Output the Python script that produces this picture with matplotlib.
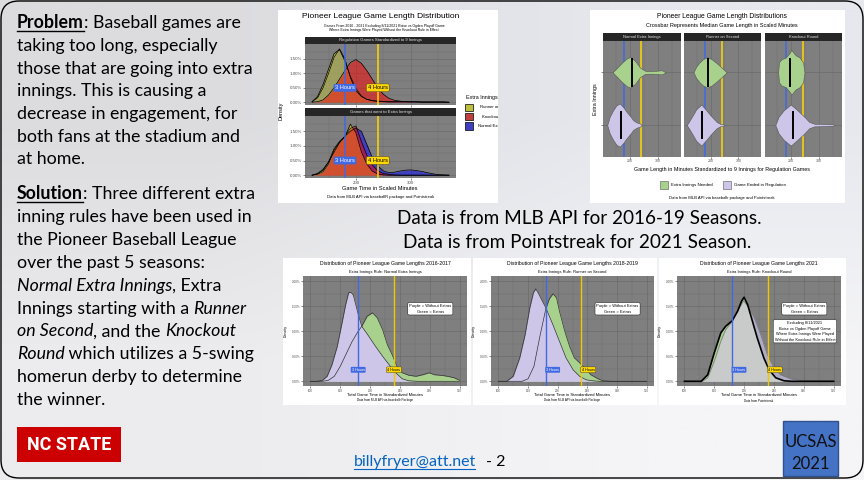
import numpy as np
import matplotlib.pyplot as plt
from matplotlib.patches import Rectangle, FancyBboxPatch

W, H = 864, 480
CF = 'Liberation Sans'   # chart font (ggplot look)
SF = 'Lato'              # slide font (Calibri look)

# ---------------- data (densities in %) ----------------
tl_x = list(range(120, 371, 10))
reg_runner = [.02, .2, .62, 1.15, 1.68, 1.83, 1.42, .9, .48, .22, .1, .05, .03, .02, .01, .01, .01, .01, .01, .01, 0, 0, 0, 0, 0, 0]
reg_knock = [0, .02, .08, .25, .5, .8, 1.1, 1.38, 1.48, 1.35, 1.1, .8, .5, .28, .14, .07, .04, .02, .01, .01, .01, .01, .01, .01, .01, 0]
reg_normal = [.02, .15, .5, 1.0, 1.55, 1.85, 1.5, .85, .4, .2, .1, .06, .04, .03, .03, .03, .02, .02, .02, .02, .01, .01, .01, .01, .01, 0]
ext_runner = [0, .06, .2, .45, .9, 1.15, 1.32, 1.74, 1.45, .8, .38, .14, .04, .01, 0, 0, 0, 0, 0, 0, 0, 0, 0, 0, 0, 0]
ext_knock = [0, .03, .12, .38, .85, 1.12, 1.33, 1.6, 1.68, 1.15, .68, .35, .15, .06, .03, .01, 0, 0, 0, 0, 0, 0, 0, 0, 0, 0]
ext_normal = [0, .05, .17, .45, .78, 1.1, 1.33, 1.5, 1.61, 1.5, 1.05, .6, .32, .15, .09, .1, .14, .17, .18, .16, .13, .09, .05, .02, .01, 0]
tl_rules = ['Runner on Second', 'Knockout Round', 'Normal Extra Innings']

# violins: game length vs half width (category units)
vio_names = ['Normal Extra Innings', 'Runner on Second', 'Knockout Round']
vio_ext_x = [[138, 152, 170, 188, 200, 218, 236, 254, 271, 295, 313, 328],
             [139, 149, 161, 173, 188, 204, 222, 240, 252, 258],
             [153, 156, 165, 180, 195, 200, 215, 230, 242, 247]]
vio_ext_w = [[0, .075, .175, .26, .29, .22, .09, .03, .025, .03, .04, 0],
             [0, .11, .19, .25, .29, .25, .175, .09, .03, 0],
             [0, .19, .25, .28, .375, .425, .325, .28, .19, 0]]
vio_reg_x = [[119, 128, 140, 152, 164, 176, 188, 200, 212, 224, 236, 242],
             [115, 124, 137, 149, 167, 185, 204, 222, 234, 246, 250],
             [143, 155, 173, 198, 222, 246, 264, 282, 318, 351, 353]]
vio_reg_w = [[0, .16, .28, .375, .41, .34, .25, .175, .09, .05, .03, 0],
             [0, .075, .19, .3, .39, .28, .16, .06, .025, .012, 0],
             [0, .16, .28, .39, .28, .16, .06, .025, .019, .012, 0]]
med_ext = [208, 191, 195]
med_reg = [168, 168, 205]

# season densities
s1_px = [100, 111, 120, 128, 136, 145, 153, 159, 164, 168, 172, 176, 181, 186, 195, 209, 221, 232, 243, 254, 265, 280, 350]
s1_py = [0, 0, .02, .1, .33, .7, 1.17, 1.53, 1.77, 1.78, 1.72, 1.53, 1.3, 1.1, .95, .7, .5, .33, .17, .05, .01, 0, 0]
s1_gx = [100, 120, 130, 140, 150, 160, 170, 180, 186, 195, 204, 212, 221, 229, 237, 246, 254, 265, 277, 288, 299, 308, 319, 330, 341, 350]
s1_gy = [0, 0, .02, .1, .3, .55, .8, 1.0, 1.1, 1.3, 1.37, 1.27, 1.03, .73, .53, .27, .17, .12, .1, .13, .17, .13, .12, .1, .07, .02]
s2_px = [100, 114, 125, 136, 145, 153, 159, 163, 167, 173, 180, 186, 192, 203, 214, 226, 237, 248, 259, 270, 350]
s2_py = [0, 0, .1, .47, .93, 1.47, 1.77, 1.85, 1.77, 1.63, 1.47, 1.3, 1.13, .8, .47, .23, .1, .03, .01, 0, 0]
s2_gx = [100, 140, 150, 160, 170, 180, 186, 192, 198, 203, 212, 220, 228, 237, 245, 256, 268, 276, 290, 350]
s2_gy = [0, 0, .05, .3, .9, 1.45, 1.65, 1.75, 1.67, 1.4, 1.0, .7, .47, .37, .27, .13, .05, .01, 0, 0]
s3_gx = [100, 128, 139, 150, 161, 169, 180, 189, 196, 200, 206, 214, 222, 233, 242, 253, 267, 280, 350]
s3_gy = [0, 0, .13, .57, .97, 1.1, 1.21, 1.4, 1.61, 1.68, 1.53, 1.2, .87, .47, .23, .07, .01, 0, 0]
s3_px = [100, 130, 139, 150, 161, 169, 180, 189, 199, 208, 217, 228, 239, 250, 261, 272, 278, 289, 300, 350]
s3_py = [0, 0, .07, .4, .8, 1.03, 1.2, 1.4, 1.61, 1.47, 1.27, .93, .53, .27, .13, .08, .05, .03, 0, 0]
season_titles = ['Distribution of Pioneer League Game Lengths 2016-2017',
                 'Distribution of Pioneer League Game Lengths 2018-2019',
                 'Distribution of Pioneer League Game Lengths 2021']
season_rules = ['Extra Innings Rule: Normal Extra Innings', 'Extra Innings Rule: Runner on Second',
                'Extra Innings Rule: Knockout Round']
season_src = ['Data from MLB API via baseballr Package', 'Data from MLB API via baseballr Package',
              'Data from Pointstreak']

# ---------------- figure / slide background ----------------
fig = plt.figure(figsize=(8.64, 4.8), dpi=100)
bg = fig.add_axes([0, 0, 1, 1])
bg.set_xlim(0, W)
bg.set_ylim(H, 0)
bg.axis('off')
grad = np.array([[[220, 220, 223], [230, 232, 238]],
                 [[236, 236, 239], [245, 245, 247]]]) / 255
bg.imshow(grad, extent=(0, W, H, 0), interpolation='bilinear', aspect='auto')
bg.add_patch(FancyBboxPatch((1, 1), 862, 477, boxstyle='round,pad=0,rounding_size=18',
                            fc='none', ec='black', lw=1.0))
r = fig.canvas.get_renderer()


def px(x0, y0, x1, y1):
    return fig.add_axes([x0 / W, 1 - y1 / H, (x1 - x0) / W, (y1 - y0) / H])


def T(x, y, s, size, ha='center', **kw):
    kw.setdefault('family', CF)
    return bg.text(x, y, s, fontsize=size, ha=ha, va='center', **kw)


def dark(ax, xmaj, xmin, ymaj, ymin, lsize):
    ax.set_facecolor('#7f7f7f')
    ax.set_xticks(xmaj)
    ax.set_xticks(xmin, minor=True)
    ax.set_yticks(ymaj)
    ax.set_yticks(ymin, minor=True)
    ax.grid(which='major', color='#6b6b6b', lw=0.5)
    ax.grid(which='minor', color='#6b6b6b', lw=0.25)
    ax.set_axisbelow(True)
    for s in ax.spines.values():
        s.set_visible(False)
    ax.tick_params(which='major', length=1.2, width=0.4, color='#333333',
                   labelsize=lsize, labelcolor='#4d4d4d', pad=0.8)
    ax.tick_params(which='minor', length=0)
    for lab in ax.get_xticklabels() + ax.get_yticklabels():
        lab.set_family(CF)


def strip(x0, y0, x1, y1, s, size):
    bg.add_patch(Rectangle((x0, y0), x1 - x0, y1 - y0, fc='#262626', ec='none'))
    T((x0 + x1) / 2, (y0 + y1) / 2, s, size, color='#e6e6e6')


for box in [(278, 10, 498, 203), (590, 10, 845, 203), (283, 258, 471, 405),
            (473, 258, 657, 405), (659, 258, 846, 405)]:
    bg.add_patch(Rectangle((box[0], box[1]), box[2] - box[0], box[3] - box[1], fc='white', ec='none'))

# ---------------- top left chart ----------------
keys = {'Runner on Second': '#bfbf3f', 'Knockout Round': '#bf3f3f', 'Normal Extra Innings': '#3f3fbf'}
T(380.7, 17, 'Pioneer League Game Length Distribution', 6.0)
T(384, 26, 'Games From 2016 - 2021 Excluding 8/11/2021 Boise vs Ogden Playoff Game', 2.5)
T(384, 29.5, 'Where Extra Innings Were Played Without the Knockout Rule in Effect', 2.5)
strip(305, 37, 456, 44, 'Regulation Games Standardized to 9 Innings', 3.1)
strip(305, 108, 456, 116, 'Games that went to Extra Innings', 3.1)
for (y0, y1), sets, lab in [((44, 105), [reg_normal, reg_runner, reg_knock], False),
                            ((116, 178), [ext_normal, ext_runner, ext_knock], True)]:
    ax = px(305, y0, 456, y1)
    for vals, c in zip(sets, ['blue', 'yellow', 'red']):
        ax.fill_between(tl_x, vals, color=c, alpha=0.5, lw=0)
        ax.plot(tl_x, vals, color='black', lw=0.5)
    ax.axvline(180, color='#4169e1', lw=1.1)
    ax.axvline(240, color='gold', lw=1.1)
    ax.set_xlim(107, 383)
    ax.set_ylim(-0.096, 2.02)
    dark(ax, [200, 300], [150, 250, 350], [0, .5, 1, 1.5], [.25, .75, 1.25, 1.75], 3.2)
    ax.set_yticklabels(['0.00%', '0.50%', '1.00%', '1.50%'], family=CF)
    if not lab:
        ax.set_xticklabels([])
    ax.text(180, 0.5, '3 Hours', fontsize=4.1, family=CF, color='white', ha='center', va='center',
            bbox=dict(boxstyle='round,pad=0.25', fc='#4169e1', ec='none'))
    ax.text(240, 0.5, '4 Hours', fontsize=4.1, family=CF, color='black', ha='center', va='center',
            bbox=dict(boxstyle='round,pad=0.25', fc='gold', ec='#333333', lw=0.3))
T(281.3, 111, 'Density', 4, rotation=90)
T(380, 189, 'Game Time in Scaled Minutes', 4.1)
T(381, 197.3, 'Data from MLB API via baseballR package and Pointstreak', 3.0)
# legend is cut off by the edge of the pasted image
crop = Rectangle((278, 10), 220, 193, transform=bg.transData)
t = T(466, 97, 'Extra Innings Rule', 3.9, ha='left')
t.set_clip_on(True)
t.set_clip_path(crop)
for i, name in enumerate(tl_rules):
    yk = 103.7 + i * 9.2
    bg.add_patch(Rectangle((465.3, yk), 7.7, 7.6, fc=keys[name], ec='black', lw=0.5))
    t = T(497, yk + 3.8, name, 3.1)
    t.set_clip_on(True)
    t.set_clip_path(crop)

# ---------------- top right chart (violins) ----------------
T(722, 16, 'Pioneer League Game Length Distributions', 4.9)
T(722, 25.3, 'Crossbar Represents Median Game Length in Scaled Minutes', 4.0)
tr_panels = [(603.3, 680.7), (684, 761), (764.7, 842)]
for k, (x0, x1) in enumerate(tr_panels):
    strip(x0, 32.7, x1, 40.7, vio_names[k], 2.9)
    ax = px(x0, 40.7, x1, 156.7)
    ax.axvline(180, color='#4169e1', lw=1.1)
    ax.axvline(240, color='gold', lw=1.1)
    ax.fill_between(vio_ext_x[k], [2 - w for w in vio_ext_w[k]], [2 + w for w in vio_ext_w[k]],
                    fc='#a9d18e', ec='#555555', lw=0.4, zorder=3)
    ax.fill_between(vio_reg_x[k], [1 - w for w in vio_reg_w[k]], [1 + w for w in vio_reg_w[k]],
                    fc='#cdc6e8', ec='#555555', lw=0.4, zorder=3)
    ax.plot([med_ext[k]] * 2, [1.75, 2.25], color='black', lw=1.4, zorder=4)
    ax.plot([med_reg[k]] * 2, [0.75, 1.25], color='black', lw=1.4, zorder=4)
    ax.set_xlim(105, 381)
    ax.set_ylim(0.4, 2.6)
    dark(ax, [200, 300], [150, 250, 350], [1, 2], [], 2.6)
    ax.set_yticklabels([])
    ax.tick_params(axis='y', length=1.2 if k == 0 else 0)
T(722, 169.3, 'Game Length in Minutes Standardized to 9 Innings for Regulation Games', 3.9)
T(595, 98.7, 'Extra Innings', 3.9, rotation=90)
bg.add_patch(Rectangle((660, 180.7), 8, 8.3, fc='#a9d18e', ec='#555555', lw=0.4))
T(671, 184.8, 'Extra Innings Needed', 3.2, ha='left')
bg.add_patch(Rectangle((722.7, 180.7), 8, 8.3, fc='#cdc6e8', ec='#555555', lw=0.4))
T(734, 184.8, 'Game Ended in Regulation', 3.2, ha='left')
T(722, 197.7, 'Data from MLB API via baseballr package and Pointstreak', 3.0)

# ---------------- middle text ----------------
T(579.5, 218, 'Data is from MLB API for 2016-19 Seasons.', 13.6, family=SF)
T(577, 243, 'Data is from Pointstreak for 2021 Season.', 13.6, family=SF)

# ---------------- bottom season charts ----------------
bot_panels = [(303, 467), (491, 654), (677, 841)]
curves = [(s1_gx, s1_gy, s1_px, s1_py), (s2_gx, s2_gy, s2_px, s2_py), (s3_gx, s3_gy, s3_px, s3_py)]
for k, (x0, x1) in enumerate(bot_panels):
    cx = (x0 + x1) / 2
    T(cx, 264, season_titles[k], 3.7)
    T(cx, 272.3, season_rules[k], 2.9)
    ax = px(x0, 276.3, x1, 386.3)
    gx, gy, pxs, pys = curves[k]
    if k < 2:
        ax.fill_between(gx, gy, color='#a9d18e', lw=0)
        ax.plot(gx, gy, color='#333333', lw=0.5)
        ax.fill_between(pxs, pys, color='#cdc6e8', lw=0)
        ax.plot(pxs, pys, color='#333333', lw=0.5)
        hx, ha = [180, 240], 'center'
        if k == 1:
            hx, ha = [180.5, 240.5], 'left'
    else:
        ax.fill_between(gx, gy, color='#a9d18e', lw=0)
        ax.fill_between(pxs, pys, color='#aeabc4', lw=0)
        ov_x = np.array(range(100, 351))
        ov = np.minimum(np.interp(ov_x, gx, gy), np.interp(ov_x, pxs, pys))
        ax.fill_between(ov_x, ov, color='#c9cbcb', lw=0)
        ax.plot(pxs, pys, color='#777777', lw=0.5)
        ax.plot(gx, gy, color='black', lw=1.2)
        hx, ha = [180.5, 240.5], 'left'
    ax.axvline(180, color='#4169e1', lw=1.0)
    ax.axvline(240, color='#f0c800', lw=1.0)
    ax.text(hx[0], 0.23, '3 Hours', fontsize=2.7, family=CF, color='white', ha=ha, va='center',
            bbox=dict(boxstyle='round,pad=0.25', fc='#4169e1', ec='none'))
    ax.text(hx[1], 0.23, '4 Hours', fontsize=2.7, family=CF, color='black', ha=ha, va='center',
            bbox=dict(boxstyle='round,pad=0.25', fc='gold', ec='#333333', lw=0.3))
    ax.text(301, 1.45, 'Purple = Without Extras\nGreen = Extras', fontsize=2.9, family=CF,
            ha='center', va='center', linespacing=1.5,
            bbox=dict(boxstyle='round,pad=0.35', fc='white', ec='black', lw=0.3))
    if k == 2:
        ax.text(302, 1.0, 'Excluding 8/11/2021\nBoise vs Ogden Playoff Game\nWhere Extra Innings Were Played\n'
                'Without the Knockout Rule in Effect', fontsize=2.8, family=CF, ha='center', va='center',
                linespacing=1.5, bbox=dict(boxstyle='round,pad=0.35', fc='white', ec='black', lw=0.3))
    ax.set_xlim(87.5, 362.5)
    ax.set_ylim(-0.1, 2.1)
    dark(ax, [100, 150, 200, 250, 300, 350], [125, 175, 225, 275, 325], [0, .5, 1, 1.5, 2],
         [.25, .75, 1.25, 1.75], 2.2)
    ax.set_yticklabels(['0.00%', '0.50%', '1.00%', '1.50%', '2.00%'], family=CF)
    T(x0 - 17, 331, 'Density', 2.6, rotation=90)
    T(cx, 394.7, 'Total Game Time in Standardized Minutes', 3.0)
    T(cx, 400.5, season_src[k], 2.2)

# ---------------- left text block ----------------
def width(s, kw):
    t = bg.text(0, 0, '|' + s + '|', **kw)
    t0 = bg.text(0, 0, '||', **kw)
    w = t.get_window_extent(renderer=r).width - t0.get_window_extent(renderer=r).width
    t.remove()
    t0.remove()
    return w


def style(st, size):
    return dict(fontsize=size, family=SF, fontweight='bold' if 'b' in st else 'normal',
                fontstyle='italic' if 'i' in st else 'normal')


base = width('Problem', style('b', 10)) + width(': Baseball games are', style('', 10))
FS = 10 * 224 / base


def line(x, y, parts):
    for s, st in parts:
        kw = style(st, FS)
        w = width(s, kw)
        bg.text(x, y, s, ha='left', va='baseline', **kw)
        if 'u' in st:
            bg.plot([x, x + w], [y + 2.2, y + 2.2], color='black', lw=1.0)
        x += w


problem = [[('Problem', 'bu'), (': Baseball games are', '')],
           [('taking too long, especially', '')],
           [('those that are going into extra', '')],
           [('innings. This is causing a', '')],
           [('decrease in engagement, for', '')],
           [('both fans at the stadium and', '')],
           [('at home.', '')]]
solution = [[('Solution', 'bu'), (': Three different extra', '')],
            [('inning rules have been used in', '')],
            [('the Pioneer Baseball League', '')],
            [('over the past 5 seasons:', '')],
            [('Normal Extra Innings', 'i'), (', Extra', '')],
            [('Innings starting with a ', ''), ('Runner', 'i')],
            [('on Second', 'i'), (', and the ', ''), ('Knockout', 'i')],
            [('Round', 'i'), (' which utilizes a 5-swing', '')],
            [('homerun derby to determine', '')],
            [('the winner.', '')]]
for i, parts in enumerate(problem):
    line(16.7, 28.3 + 22.7 * i, parts)
for i, parts in enumerate(solution):
    line(16.7, 199.3 + 22.85 * i, parts)

# ---------------- footer ----------------
bg.add_patch(Rectangle((17, 427), 104, 35, fc='#cc0000', ec='none'))
T(69, 444.5, 'NC STATE', 13, family='Roboto', fontweight='bold', color='white')
T(354, 462, 'billyfryer@att.net', 11.5, ha='left', family=SF, color='#0563c1')
bg.plot([354, 475], [469, 469], color='#0563c1', lw=0.8)
T(486, 462, '- 2', 11.5, ha='left', family=SF, color='black')
bg.add_patch(Rectangle((783, 421), 55, 55, fc='#4472c4', ec='#2f528f', lw=1))
T(810.5, 442, 'UCSAS', 12, family=SF, color='#111111')
T(810.5, 464, '2021', 12, family=SF, color='#111111')

fig.savefig('out.png', dpi=100)
